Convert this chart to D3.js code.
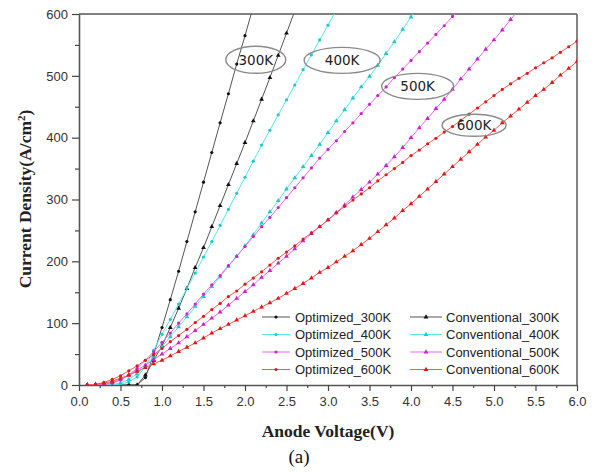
<!DOCTYPE html>
<html>
<head>
<meta charset="utf-8">
<script src="https://cdn.jsdelivr.net/npm/d3@7"></script>
<style>
  html, body { margin: 0; padding: 0; background: #fff; }
  svg { display: block; }
  .tick text { font-family: "Liberation Sans", Arial, sans-serif; font-size: 13px; fill: #333; }
</style>
</head>
<body>
<div id="chart"></div>
<script>
// voltage grid (V), every 0.1 V as marked on the curves
const voltage = [0.1,0.2,0.3,0.4,0.5,0.6,0.7,0.8,0.9,1.0,1.1,1.2,1.3,1.4,1.5,1.6,1.7,1.8,1.9,2.0,
  2.1,2.2,2.3,2.4,2.5,2.6,2.7,2.8,2.9,3.0,3.1,3.2,3.3,3.4,3.5,3.6,3.7,3.8,3.9,4.0,
  4.1,4.2,4.3,4.4,4.5,4.6,4.7,4.8,4.9,5.0,5.1,5.2,5.3,5.4,5.5,5.6,5.7,5.8,5.9,6.0];

// current density (A/cm2)
const opt300 = [0,0,0,0,0,0,0,12,50,93,138,184,232,280,328,376,424,471,519,565,612];
const conv300 = [0,0,0,0,0,0,0,16,40,63,93,124,156,190,222,256,290,324,358,392,427,462,497,533,569,605];
const opt400 = [0,0,0,0,1,5,13,30,56,82,106,131,156,181,207,232,258,284,310,336,362,388,412,437,461,485,510,534,558,582,606];
const conv400 = [0,0,0,1,3,9,18,31,46,62,78,94,110,127,143,159,175,192,208,225,243,262,280,298,317,335,353,371,389,408,
  427,445,464,482,499,517,536,555,575,595,615];
const opt500 = [0,0,1,3,8,16,27,40,54,69,84,100,115,131,147,162,177,193,208,224,240,256,271,287,303,319,335,351,367,381,
  395,410,424,439,454,468,482,497,511,525,539,553,567,581,596,610];
const conv500 = [0,0,1,4,9,16,24,32,41,50,59,68,78,88,98,108,118,129,140,151,162,174,185,197,208,220,233,245,256,267,
  279,291,304,316,328,341,355,369,384,400,416,431,447,462,478,495,511,527,543,558,574,591,607];
const opt600 = [0,1,4,9,15,23,31,40,49,59,70,80,90,101,111,122,132,143,152,163,173,183,194,205,215,225,236,246,256,267,
  278,289,299,309,319,330,340,350,360,371,380,390,399,409,418,428,438,448,458,468,478,487,496,504,513,521,529,538,547,556];
const conv600 = [0,1,3,6,11,16,22,28,34,40,47,54,61,68,76,84,91,98,105,112,119,126,133,140,148,156,164,173,182,190,
  199,208,217,227,237,248,259,270,282,293,305,317,329,341,353,365,377,389,401,412,424,435,446,457,468,478,489,501,512,523];

const seriesNames = ["Optimized_300K","Conventional_300K","Optimized_400K","Conventional_400K",
  "Optimized_500K","Conventional_500K","Optimized_600K","Conventional_600K"];
const seriesValues = [opt300, conv300, opt400, conv400, opt500, conv500, opt600, conv600];

const xTicks = [0,0.5,1,1.5,2,2.5,3,3.5,4,4.5,5,5.5,6];
const yTicks = [0,100,200,300,400,500,600];

const tempLabels = ["300K","400K","500K","600K"];
// label positions in data units (V, A/cm2)
const tempLabelX = [2.13, 3.17, 4.08, 4.76];
const tempLabelY = [526, 525, 483, 420];

const lineColors = ["#555555","#555555","#55e8e8","#55e8e8","#ee66ee","#ee66ee","#f25a5a","#f25a5a"];
const markColors = ["#111111","#111111","#22c8c8","#22c8c8","#cc22cc","#cc22cc","#e01818","#e01818"];

const W = 600, H = 472;
const margin = {top: 14, right: 23, bottom: 87, left: 79};
const width = W - margin.left - margin.right;
const height = H - margin.top - margin.bottom;

const svgRoot = d3.select("#chart").append("svg").attr("width", W).attr("height", H);
const svg = svgRoot.append("g").attr("transform", `translate(${margin.left},${margin.top})`);

const x = d3.scaleLinear().domain([0, 6]).range([0, width]);
const y = d3.scaleLinear().domain([0, 600]).range([height, 0]);

svgRoot.append("defs").append("clipPath").attr("id", "clip")
  .append("rect").attr("x", 0).attr("y", 0).attr("width", width).attr("height", height);

// minor ticks
svg.append("g")
  .attr("transform", `translate(0,${height})`)
  .call(d3.axisBottom(x).tickValues(d3.range(0.25, 6, 0.5)).tickSize(3).tickFormat(""))
  .call(g => g.select(".domain").remove())
  .selectAll("line").attr("stroke", "#444").attr("stroke-width", 1.2);
svg.append("g")
  .call(d3.axisLeft(y).tickValues(d3.range(50, 600, 100)).tickSize(4).tickFormat(""))
  .call(g => g.select(".domain").remove())
  .selectAll("line").attr("stroke", "#444").attr("stroke-width", 1.2);

// major axes
const xAxis = svg.append("g")
  .attr("transform", `translate(0,${height})`)
  .call(d3.axisBottom(x).tickValues(xTicks).tickSize(6).tickSizeOuter(0).tickPadding(6).tickFormat(d3.format(".1f")));
const yAxis = svg.append("g")
  .call(d3.axisLeft(y).tickValues(yTicks).tickSize(7).tickSizeOuter(0).tickPadding(4).tickFormat(d3.format("d")));
[xAxis, yAxis].forEach(a => {
  a.selectAll("line").attr("stroke", "#444").attr("stroke-width", 1.2);
  a.select(".domain").attr("stroke", "#555").attr("stroke-width", 1.6);
});

// frame top and right
svg.append("line").attr("x1", 0).attr("x2", width).attr("y1", 0).attr("y2", 0)
  .attr("stroke", "#555").attr("stroke-width", 1.6);
svg.append("line").attr("x1", width).attr("x2", width).attr("y1", 0).attr("y2", height)
  .attr("stroke", "#666").attr("stroke-width", 1.6);

// curves
const plot = svg.append("g").attr("clip-path", "url(#clip)");
const line = d3.line().x(d => x(d[0])).y(d => y(d[1]));
const triangle = d3.symbol().type(d3.symbolTriangle).size(10);

seriesValues.forEach((vals, i) => {
  const pts = vals.map((v, k) => [voltage[k], v]);
  plot.append("path")
    .datum(pts)
    .attr("fill", "none")
    .attr("stroke", lineColors[i])
    .attr("stroke-width", 1)
    .attr("d", line);
  if (i % 2 === 0) {
    plot.selectAll(null).data(pts).enter().append("circle")
      .attr("cx", d => x(d[0])).attr("cy", d => y(d[1]))
      .attr("r", 1.6).attr("fill", markColors[i]);
  } else {
    plot.selectAll(null).data(pts).enter().append("path")
      .attr("transform", d => `translate(${x(d[0])},${y(d[1])})`)
      .attr("d", triangle).attr("fill", markColors[i]);
  }
});

// temperature labels with ellipses
const ellipseR = [[30, 13.5], [38, 13], [36, 13], [32, 11]];
tempLabels.forEach((t, i) => {
  const cx = x(tempLabelX[i]), cy = y(tempLabelY[i]);
  svg.append("ellipse").attr("cx", cx).attr("cy", cy)
    .attr("rx", ellipseR[i][0]).attr("ry", ellipseR[i][1])
    .attr("fill", "none").attr("stroke", "#8a8a8a").attr("stroke-width", 1.4);
  svg.append("text").attr("x", cx).attr("y", cy + 5)
    .attr("text-anchor", "middle")
    .style("font-family", "'DejaVu Sans', Verdana, sans-serif")
    .style("font-size", "13.5px").style("fill", "#222")
    .text(t);
});

// legend
const legend = svg.append("g").attr("transform", `translate(183,${303})`);
seriesNames.forEach((name, i) => {
  const col = i % 2, row = Math.floor(i / 2);
  const gx = col === 0 ? 0 : 148, gy = row * 17.5;
  const g = legend.append("g").attr("transform", `translate(${gx},${gy})`);
  g.append("line").attr("x1", 0).attr("x2", col === 0 ? 28 : 32).attr("y1", 0).attr("y2", 0)
    .attr("stroke", lineColors[i]).attr("stroke-width", 1);
  const mx = col === 0 ? 14 : 16;
  if (col === 0) {
    g.append("circle").attr("cx", mx).attr("cy", 0).attr("r", 1.6).attr("fill", markColors[i]);
  } else {
    g.append("path").attr("transform", `translate(${mx},0)`).attr("d", triangle).attr("fill", markColors[i]);
  }
  g.append("text").attr("x", col === 0 ? 33 : 36).attr("y", 4.5)
    .style("font-family", "'Liberation Sans', Arial, sans-serif")
    .style("font-size", "13px").style("fill", "#222")
    .text(name);
});

// axis titles
svgRoot.append("text")
  .attr("x", margin.left + width / 2).attr("y", 437)
  .attr("text-anchor", "middle")
  .style("font-family", "'Liberation Serif', 'Times New Roman', serif")
  .style("font-size", "17.5px").style("font-weight", "bold").style("fill", "#222")
  .text("Anode Voltage(V)");

const yTitle = svgRoot.append("text")
  .attr("transform", "translate(31,199) rotate(-90)")
  .attr("text-anchor", "middle")
  .style("font-family", "'Liberation Serif', 'Times New Roman', serif")
  .style("font-size", "17.5px").style("font-weight", "bold").style("fill", "#222");
yTitle.append("tspan").text("Current Density(A/cm");
yTitle.append("tspan").attr("baseline-shift", "super").style("font-size", "11px").text("2");
yTitle.append("tspan").text(")");

svgRoot.append("text")
  .attr("x", 299).attr("y", 463)
  .attr("text-anchor", "middle")
  .style("font-family", "'Liberation Serif', 'Times New Roman', serif")
  .style("font-size", "19px").style("fill", "#111")
  .text("(a)");
</script>
</body>
</html>
